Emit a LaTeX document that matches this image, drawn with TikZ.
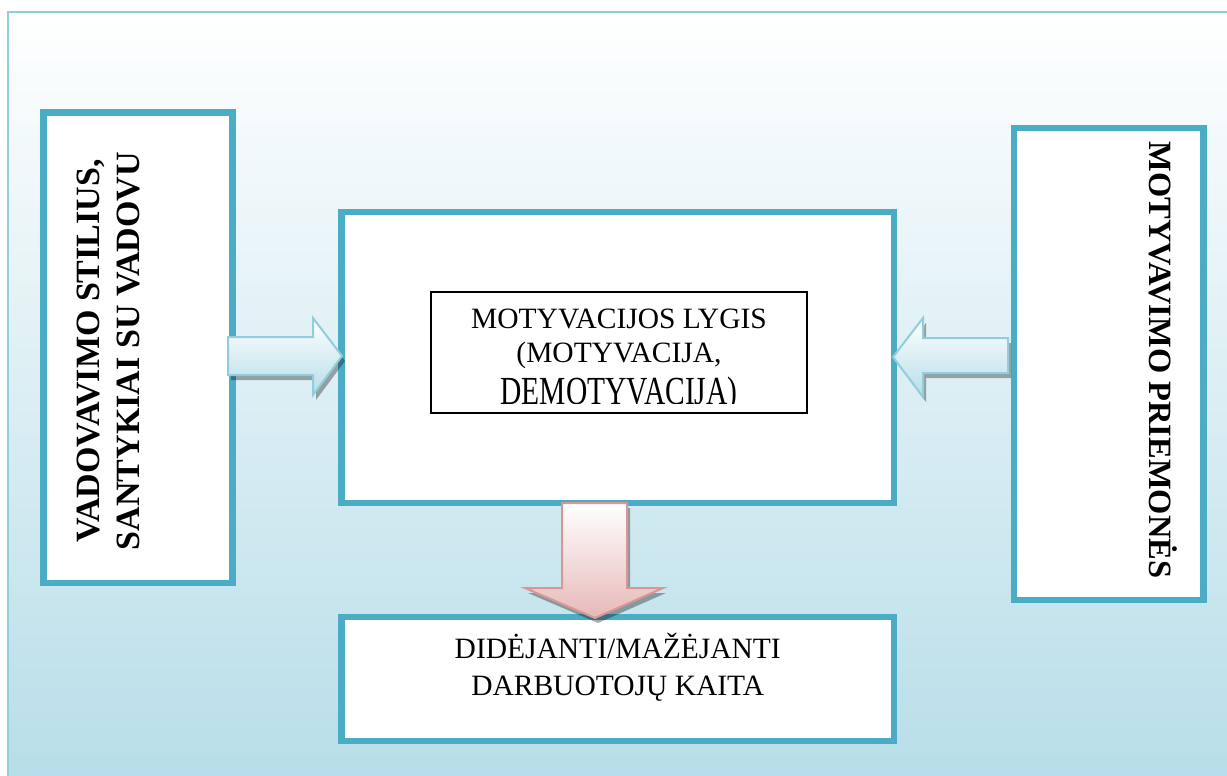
\documentclass[tikz,border=0pt]{standalone}
\usepackage{fontspec}
\usepackage{graphicx}
\setmainfont{Liberation Serif}
\usetikzlibrary{calc}
\definecolor{frameblue}{HTML}{92CDDC}
\definecolor{boxblue}{HTML}{4BACC6}
\definecolor{bgblue}{HTML}{B6DDE8}
\definecolor{arrowblue}{HTML}{B6DDE8}
\definecolor{pinkfill}{HTML}{E6B9B8}
\definecolor{pinkline}{HTML}{D99694}
\begin{document}
\begin{tikzpicture}[x=1pt,y=-1pt,
  panel/.style={draw=boxblue, line width=6.5pt, fill=white, inner sep=0pt, rectangle},
  innerbox/.style={draw=black, line width=1.3pt, fill=white, inner sep=0pt, rectangle},
  bluearrow/.style={draw=frameblue, line width=2pt, top color=white, bottom color=arrowblue, line join=miter},
  pinkarrow/.style={draw=pinkline, line width=2pt, top color=white, bottom color=pinkfill, line join=miter},
  arrowshadow/.style={fill=black, fill opacity=0.33, draw=none},
  plaintxt/.style={font=\fontsize{29.5}{34}\selectfont, align=center, inner sep=0pt}]
\useasboundingbox (0,0) rectangle (1227,776);
% background
\fill[top color=white, bottom color=bgblue] (8,12) rectangle (1240,790);
\draw[frameblue, line width=2.5pt] (8,12) rectangle (1240,790);

% panels
\node[panel, minimum width=189.2pt, minimum height=470.5pt] (left) at (137.9,347.75) {};
\node[panel, minimum width=189.5pt, minimum height=472pt] (right) at (1108.75,364) {};
\node[panel, minimum width=552.5pt, minimum height=291pt] (center) at (617.75,357.5) {};
\node[panel, minimum width=552.5pt, minimum height=124pt] (bottom) at (617.75,679) {};
\node[innerbox, minimum width=376pt, minimum height=121pt] (inner) at (619,352.5) {};

% texts
\node[font=\bfseries\fontsize{34}{40}\selectfont, align=center, inner sep=0pt, rotate=90] (lefttxt) at (109,351) {VADOVAVIMO STILIUS,\\SANTYKIAI SU VADOVU};
\node[font=\bfseries\fontsize{32.5}{40}\selectfont, inner sep=0pt, rotate=-90, anchor=base] (righttxt) at (1149,360) {MOTYVAVIMO PRIEMONĖS};
\begin{scope}
\clip (432,293) rectangle (806,403);
\node[plaintxt, anchor=north] (centertxt) at (619,308.5) {MOTYVACIJOS LYGIS\\(MOTYVACIJA,\\[8pt]\scalebox{1}[1.35]{DEMOTYVACIJA)}};
\end{scope}
\node[font=\fontsize{29.5}{37}\selectfont, align=center, inner sep=0pt] (bottomtxt) at (617.75,667) {DIDĖJANTI/MAŽĖJANTI\\DARBUOTOJŲ KAITA};

% arrows
\begin{scope}[shift={(3,5)}]
\fill[arrowshadow] (228,337) -- (313,337) -- (313,318) -- (342,356) -- (313,395) -- (313,375) -- (228,375) -- cycle;
\fill[arrowshadow] (1008,338) -- (923,338) -- (923,318) -- (893,357) -- (923,397) -- (923,373) -- (1008,373) -- cycle;
\fill[arrowshadow] (562,503) -- (627,503) -- (627,588) -- (663,588) -- (595,618) -- (525,588) -- (562,588) -- cycle;
\end{scope}
\path[bluearrow] (228,337) -- (313,337) -- (313,318) -- (342,356) -- (313,395) -- (313,375) -- (228,375) -- cycle;
\path[bluearrow] (1008,338) -- (923,338) -- (923,318) -- (893,357) -- (923,397) -- (923,373) -- (1008,373) -- cycle;
\path[pinkarrow] (562,503) -- (627,503) -- (627,588) -- (663,588) -- (595,618) -- (525,588) -- (562,588) -- cycle;
\end{tikzpicture}
\end{document}
